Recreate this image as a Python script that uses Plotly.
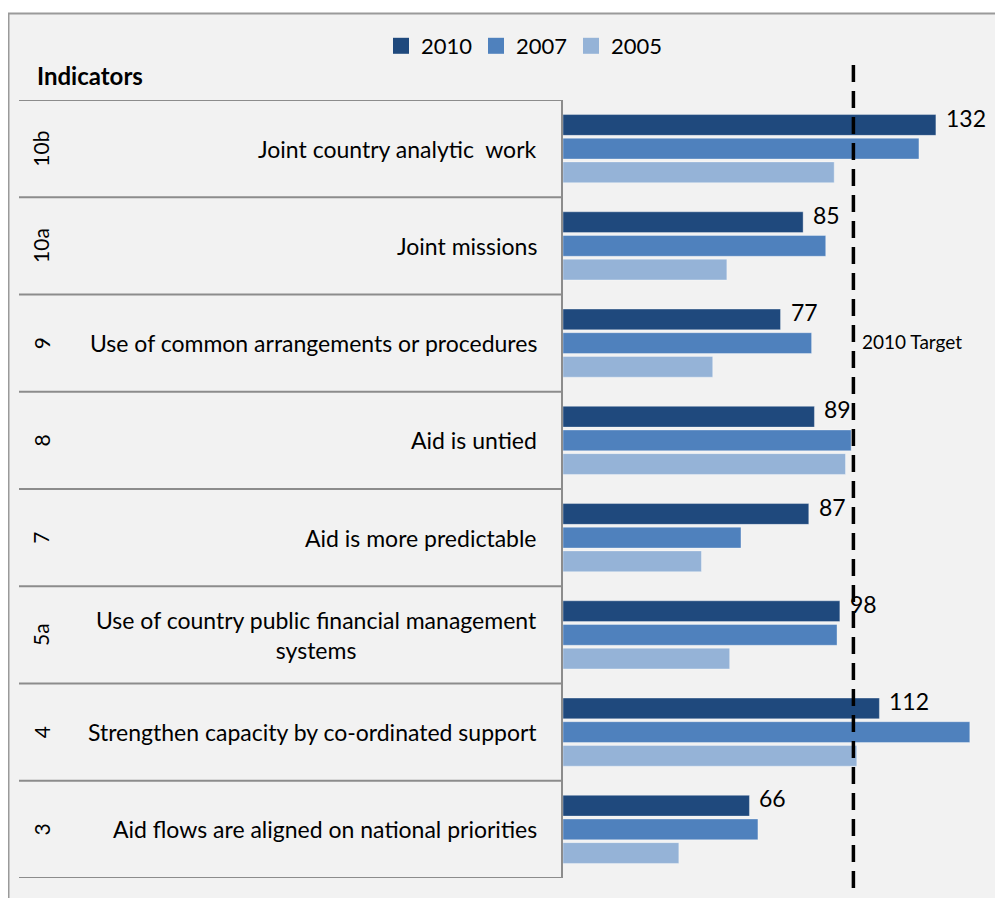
import plotly.graph_objects as go

# page body has an 8px margin, so the figure occupies screen x 8..1003, y 8..898
W, H = 995, 890
OFF = 8

codes = ["10b", "10a", "9", "8", "7", "5a", "4", "3"]
labels = [
    "Joint country analytic  work",
    "Joint missions",
    "Use of common arrangements or procedures",
    "Aid is untied",
    "Aid is more predictable",
    "Use of country public financial management<br>systems",
    "Strengthen capacity by co-ordinated support",
    "Aid flows are aligned on national priorities",
]
v2010 = [132, 85, 77, 89, 87, 98, 112, 66]
v2007 = [126, 93, 88, 102, 63, 97, 144, 69]
v2005 = [96, 58, 53, 100, 49, 59, 104, 41]
target = 102.8
series = [("2010", v2010, "#1f497d"), ("2007", v2007, "#4f81bd"), ("2005", v2005, "#95b3d7")]

FONT = "Lato"

def px(x):
    return (x - OFF) / W

def py(y):
    return 1 - (y - OFF) / H

fig = go.Figure()
for name, vals, col in series:
    fig.add_trace(go.Bar(
        y=labels, x=vals, name=name, orientation="h", showlegend=False,
        marker=dict(color=col, line=dict(color="rgba(255,255,255,0.35)", width=1)),
        hoverinfo="x+name",
    ))
# legend entries with larger square swatches
for name, vals, col in series:
    fig.add_trace(go.Scatter(
        x=[None], y=[None], mode="markers", name=name,
        marker=dict(symbol="square", size=18, color=col), hoverinfo="skip",
    ))

shapes = [
    dict(type="rect", xref="paper", yref="paper", x0=px(8.5), x1=px(1012), y0=py(910), y1=py(13.5),
         fillcolor="#f2f2f2", line=dict(color="#9a9a9a", width=2), layer="below"),
]
for i in range(len(labels) + 1):
    shapes.append(dict(type="line", xref="paper", yref="y", x0=px(19), x1=px(563),
                       y0=i - 0.5, y1=i - 0.5, line=dict(color="#8c8c8c", width=2)))
shapes.append(dict(type="line", xref="x", yref="paper", x0=target, x1=target,
                   y0=py(888), y1=py(62), line=dict(color="black", width=3.5, dash="17px,9px")))

annotations = [
    dict(text="<b>Indicators</b>", xref="paper", yref="paper", x=px(35), y=py(76),
         xanchor="left", yanchor="middle", showarrow=False, font=dict(size=24, color="black", family=FONT)),
    dict(text="2010 Target", xref="paper", yref="paper", x=px(860), y=py(341),
         xanchor="left", yanchor="middle", showarrow=False, font=dict(size=19, color="black", family=FONT)),
]
for c, lab in zip(codes, labels):
    annotations.append(dict(text=c, xref="paper", yref="y", x=px(41), y=lab, textangle=-90,
                            xanchor="center", yanchor="middle", showarrow=False,
                            font=dict(size=21, color="black", family=FONT)))
    annotations.append(dict(text=lab, xref="paper", yref="y", x=px(539), y=lab, align="center",
                            xanchor="right", yanchor="middle", showarrow=False,
                            font=dict(size=23, color="black", family=FONT)))
for lab, v in zip(labels, v2010):
    annotations.append(dict(text=str(v), xref="x", yref="y", x=v, y=lab, xanchor="left",
                            yanchor="middle", xshift=8, yshift=31, showarrow=False,
                            font=dict(size=23, color="black", family=FONT)))

fig.update_layout(
    width=W, height=H,
    margin=dict(l=0, r=0, t=0, b=0),
    paper_bgcolor="white",
    plot_bgcolor="rgba(0,0,0,0)",
    barmode="group", bargap=0.27, bargroupgap=0.12,
    font=dict(family=FONT, color="black"),
    showlegend=True,
    legend=dict(orientation="h", x=px(381), y=py(46), xanchor="left", yanchor="middle",
                font=dict(size=22, family=FONT, color="black"), bgcolor="rgba(0,0,0,0)",
                itemwidth=30, entrywidth=50, entrywidthmode="pixels"),
    xaxis=dict(domain=[px(563), 1], range=[0, (1003 - 563) / 2.825], visible=False, fixedrange=True),
    yaxis=dict(domain=[py(878), py(100)], range=[7.5, -0.5], type="category",
               showticklabels=False, showgrid=False, zeroline=False,
               showline=True, linecolor="#8c8c8c", linewidth=2, ticks="", fixedrange=True),
    shapes=shapes,
    annotations=annotations,
)

fig.write_html("out.html")
